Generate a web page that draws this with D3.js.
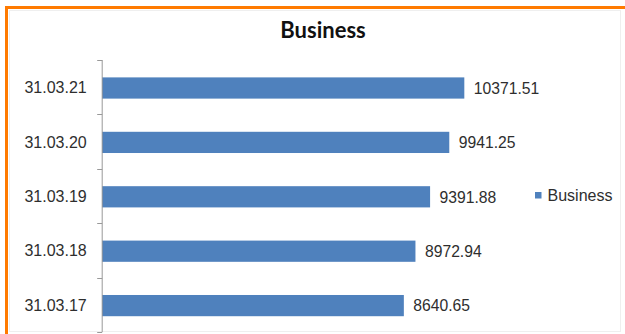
<!DOCTYPE html>
<html>
<head>
<meta charset="utf-8">
<script src="https://cdn.jsdelivr.net/npm/d3@7"></script>
<style>
  html, body { margin: 0; padding: 0; background: #ffffff; }
  svg { display: block; }
</style>
</head>
<body>
<div id="chart"></div>
<script>
// Year-end dates (top to bottom) and business totals
const categories = ["31.03.21", "31.03.20", "31.03.19", "31.03.18", "31.03.17"];
const values = [10371.51, 9941.25, 9391.88, 8972.94, 8640.65];
const seriesName = "Business";
const titleText = "Business";
const xDomain = [0, 12000];

const W = 625, H = 334;
const svg = d3.select("#chart").append("svg")
  .attr("width", W).attr("height", H);

svg.append("rect").attr("width", W).attr("height", H).attr("fill", "#fff");

// faint chart-area frame
svg.append("rect")
  .attr("x", 9.5).attr("y", 10.5).attr("width", 611).attr("height", 321)
  .attr("fill", "none").attr("stroke", "#efefef").attr("stroke-width", 1);

// orange outer frame (top and left edges visible)
svg.append("path")
  .attr("d", `M6.5,${H + 5} V7.5 H${W + 5}`)
  .attr("fill", "none").attr("stroke", "#ff7a00").attr("stroke-width", 3);

const x = d3.scaleLinear().domain(xDomain).range([102, 521.2]);
const y = d3.scaleBand().domain(categories).range([60, 332])
  .paddingInner(0.61).paddingOuter(0.305);

// title
svg.append("text")
  .attr("x", 323).attr("y", 38)
  .attr("text-anchor", "middle")
  .attr("font-family", "Lato, 'Open Sans', sans-serif")
  .attr("font-weight", "bold")
  .attr("font-size", 22)
  .attr("fill", "#111")
  .text(titleText);

// bars
svg.append("g").selectAll("rect")
  .data(categories)
  .join("rect")
  .attr("x", x(0))
  .attr("y", d => y(d) + 0.8)
  .attr("width", (d, i) => x(values[i]) - x(0))
  .attr("height", y.bandwidth())
  .attr("fill", "#4f81bd");

// value labels
const fmt = d3.format(".2f");
svg.append("g").selectAll("text")
  .data(categories)
  .join("text")
  .attr("x", (d, i) => x(values[i]) + 9.5)
  .attr("y", d => y(d) + 0.8 + y.bandwidth() / 2)
  .attr("dy", "0.37em")
  .attr("font-family", "'Liberation Sans', Arial, sans-serif")
  .attr("font-size", 15.7)
  .attr("fill", "#2e2e2e")
  .text((d, i) => fmt(values[i]));

// category axis
const axisG = svg.append("g").attr("transform", `translate(${x(0) - 0.3},0)`);
axisG.call(d3.axisLeft(y).tickSize(0).tickPadding(15))
  .call(g => g.select(".domain").remove());
axisG.selectAll(".tick text")
  .attr("font-family", "'Liberation Sans', Arial, sans-serif")
  .attr("font-size", 16)
  .attr("fill", "#2e2e2e")
  .attr("dy", "0.37em");

const [r0, r1] = y.range();
const boundaries = d3.range(categories.length + 1).map(i => r0 + i * (r1 - r0) / categories.length);
axisG.append("line")
  .attr("x1", 0.5).attr("x2", 0.5).attr("y1", r0).attr("y2", r1)
  .attr("stroke", "#999");
axisG.selectAll(".bound")
  .data(boundaries)
  .join("line")
  .attr("class", "bound")
  .attr("x1", -4.5).attr("x2", 0.5)
  .attr("y1", d => Math.round(d) + 0.5).attr("y2", d => Math.round(d) + 0.5)
  .attr("stroke", "#999");

// legend
const lg = svg.append("g").attr("transform", "translate(535,192)");
lg.append("rect").attr("width", 6.5).attr("height", 6.5).attr("fill", "#4f81bd");
lg.append("text")
  .attr("x", 12.5).attr("y", 3.3).attr("dy", "0.37em")
  .attr("font-family", "'Liberation Sans', Arial, sans-serif")
  .attr("font-size", 16)
  .attr("fill", "#2e2e2e")
  .text(seriesName);
</script>
</body>
</html>
